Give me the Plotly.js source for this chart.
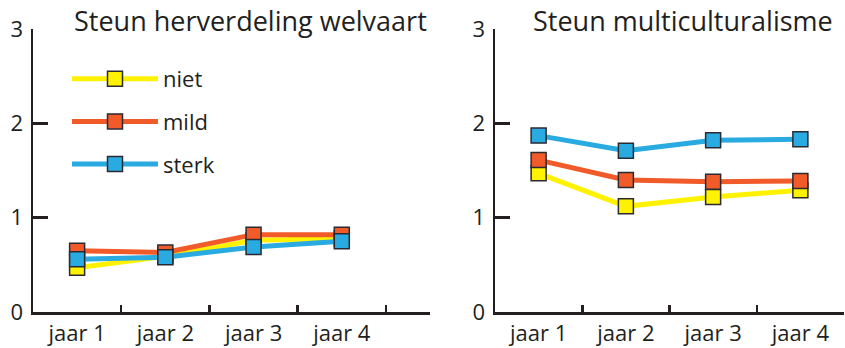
<!DOCTYPE html>
<html>
<head>
<meta charset="utf-8">
<script src="https://cdn.plot.ly/plotly-3.0.1.min.js"></script>
<style>html,body{margin:0;padding:0;background:#fff;}#chart{width:845px;height:348px;}</style>
</head>
<body>
<div id="chart"></div>
<script>
// Data
var categories = ['jaar 1', 'jaar 2', 'jaar 3', 'jaar 4'];
var seriesNames = ['niet', 'mild', 'sterk'];
var welvaartNiet  = [0.47, 0.59, 0.76, 0.78];
var welvaartMild  = [0.65, 0.63, 0.82, 0.82];
var welvaartSterk = [0.56, 0.58, 0.69, 0.75];
var multiNiet  = [1.47, 1.12, 1.22, 1.29];
var multiMild  = [1.61, 1.40, 1.38, 1.39];
var multiSterk = [1.87, 1.71, 1.82, 1.83];
var yTickVals = [0, 1, 2, 3];
var titles = ['Steun herverdeling welvaart', 'Steun multiculturalisme'];

var W = 845, H = 348;
var colors = ['#FFF200', '#F15A29', '#29ABE2'];
var ink = '#231F20';
var fontFam = '"Open Sans", "Noto Sans", sans-serif';

function mk(y, i, xa, ya, show) {
  return {
    x: categories, y: y, type: 'scatter', mode: 'lines+markers',
    name: seriesNames[i], legendgroup: seriesNames[i], showlegend: show,
    xaxis: xa, yaxis: ya,
    line: {color: colors[i], width: 5},
    marker: {symbol: 'square', size: 15, color: colors[i], line: {color: '#2a2a33', width: 1.5}}
  };
}
var traces = [
  mk(welvaartNiet, 0, 'x', 'y', true),
  mk(welvaartMild, 1, 'x', 'y', true),
  mk(welvaartSterk, 2, 'x', 'y', true),
  mk(multiNiet, 0, 'x2', 'y2', false),
  mk(multiMild, 1, 'x2', 'y2', false),
  mk(multiSterk, 2, 'x2', 'y2', false)
];

var yDom = [(H - 312) / H, (H - 29) / H];
function xax(dom, range, anchor) {
  return {
    domain: dom, anchor: anchor, type: 'category', range: range,
    showline: true, linecolor: ink, linewidth: 2.5,
    ticks: 'inside', tickson: 'boundaries', ticklen: 7, tickwidth: 2.5, tickcolor: ink,
    showgrid: false, zeroline: false, fixedrange: true,
    tickfont: {family: fontFam, size: 22, color: ink}
  };
}
function yax(anchor) {
  return {
    domain: yDom, anchor: anchor, range: [0, 3],
    tickvals: yTickVals, ticktext: yTickVals.map(String),
    showline: true, linecolor: ink, linewidth: 2.5,
    ticks: 'inside', ticklen: 15, tickwidth: 2.5, tickcolor: ink,
    showgrid: false, zeroline: false, fixedrange: true,
    ticklabelstandoff: 3,
    tickfont: {family: fontFam, size: 22, color: ink}
  };
}

var layout = {
  width: W, height: H,
  margin: {l: 0, r: 0, t: 0, b: 0},
  paper_bgcolor: '#fff', plot_bgcolor: 'rgba(0,0,0,0)',
  showlegend: true,
  xaxis: xax([33 / W, 430 / W], [-0.5, 4.0], 'y'),
  yaxis: yax('x'),
  xaxis2: xax([495 / W, 844 / W], [-0.5, 3.5], 'y2'),
  yaxis2: yax('x2'),
  legend: {
    x: 67 / W, y: 1 - 58 / H, xanchor: 'left', yanchor: 'top',
    font: {family: fontFam, size: 22, color: ink},
    itemwidth: 86, tracegroupgap: 11, traceorder: 'grouped',
    bgcolor: 'rgba(0,0,0,0)'
  },
  annotations: [
    {text: titles[0], xref: 'paper', yref: 'paper', x: 250 / W, y: 1 - 20 / H,
     xanchor: 'center', yanchor: 'middle', showarrow: false,
     font: {family: fontFam, size: 27, color: ink}},
    {text: titles[1], xref: 'paper', yref: 'paper', x: 683 / W, y: 1 - 20 / H,
     xanchor: 'center', yanchor: 'middle', showarrow: false,
     font: {family: fontFam, size: 27, color: ink}}
  ]
};

Plotly.newPlot('chart', traces, layout, {displayModeBar: false, staticPlot: true});
</script>
</body>
</html>
